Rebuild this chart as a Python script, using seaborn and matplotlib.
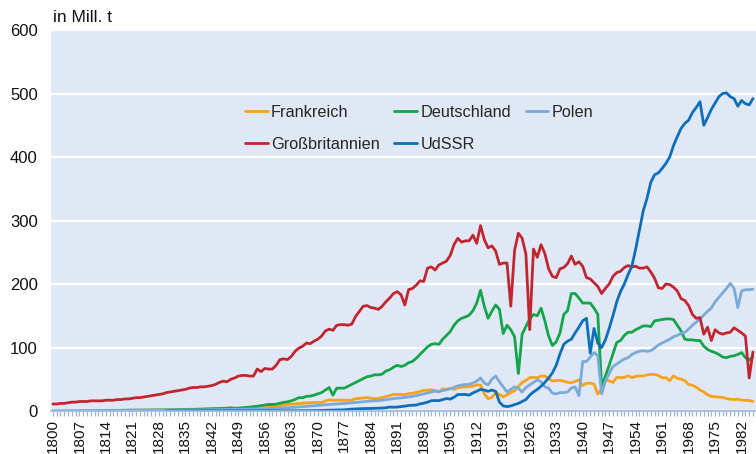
import numpy as np
import pandas as pd
import matplotlib
matplotlib.use("Agg")
import matplotlib.pyplot as plt
from matplotlib.lines import Line2D
from matplotlib.ticker import MultipleLocator
import seaborn as sns

# Steinkohlenförderung in Mill. t, ein Wert je Jahr ab dem Startjahr
frankreich_start = 1815
frankreich = [
    0.9, 0.9, 1.0, 1.0, 1.1,
    1.1, 1.2, 1.2, 1.3, 1.4, 1.5, 1.7, 1.7, 1.8, 1.7,
    1.9, 1.8, 2.0, 2.1, 2.5, 2.5, 2.8, 2.9, 3.1, 3.0,
    3.0, 3.4, 3.6, 3.7, 3.8, 4.2, 4.4, 5.2, 4.0, 4.0,
    4.4, 4.9, 4.8, 5.9, 6.8, 7.5, 7.9, 7.9, 7.4, 7.5,
    8.3, 9.4, 10.3, 10.7, 11.2, 11.6, 12.3, 12.7, 12.8, 13.5,
    13.3, 13.3, 15.8, 17.5, 16.9, 17.0, 17.1, 16.8, 16.9, 17.1,
    19.4, 19.8, 20.6, 21.3, 20.0, 19.5, 19.9, 21.3, 22.6, 24.3,
    26.1, 26.0, 26.2, 25.7, 27.5, 28.0, 29.2, 30.8, 32.4, 32.9,
    33.4, 32.3, 30.0, 34.9, 34.2, 35.9, 34.2, 36.8, 37.5, 37.9,
    38.4, 39.2, 41.1, 40.8, 27.5, 19.5, 21.3, 28.9, 26.3, 22.4,
    25.3, 29.0, 31.9, 38.5, 45.0, 48.1, 52.5, 52.9, 52.4, 55.0,
    55.0, 51.0, 47.3, 47.9, 48.2, 47.1, 45.2, 44.3, 46.5, 49.0,
    40.0, 43.8, 43.8, 42.4, 26.6, 35.0, 49.3, 47.3, 45.1, 53.0,
    52.5, 53.0, 55.4, 52.6, 54.4, 55.3, 55.1, 56.8, 57.7, 57.6,
    56.0, 52.4, 52.4, 47.8, 55.3, 51.3, 50.3, 47.6, 41.8, 40.6,
    37.4, 33.0, 30.0, 25.7, 22.9, 22.4, 21.9, 21.4, 19.6, 18.6,
    18.1, 18.6, 17.1, 17.0, 16.6, 15.1,
]

deutschland_start = 1815
deutschland = [
    1.0, 1.0, 1.1, 1.1, 1.2,
    1.2, 1.3, 1.3, 1.3, 1.4, 1.4, 1.5, 1.5, 1.5, 1.6,
    1.7, 1.7, 1.8, 1.9, 2.0, 2.1, 2.2, 2.4, 2.6, 2.8,
    3.0, 3.2, 3.4, 3.6, 3.8, 4.0, 4.2, 4.5, 4.4, 4.6,
    5.1, 5.6, 6.1, 6.8, 7.6, 8.5, 9.4, 10.3, 10.4, 10.8,
    12.3, 13.6, 14.5, 16.0, 18.2, 21.0, 21.0, 23.0, 23.5, 25.0,
    27, 29, 33, 37, 25, 36, 36, 36, 39, 42,
    45, 48, 51, 54, 55, 57, 57, 58, 63, 65,
    69, 72, 70, 72, 76, 78, 83, 89, 95, 101,
    105, 106, 105, 113, 119, 125, 135, 142, 146, 148,
    151, 158, 170, 190, 165, 146, 157, 167, 160, 122,
    135, 128, 117, 59, 121, 133, 145, 152, 150, 162,
    142, 118, 103, 109, 123, 152, 158, 185, 185, 178,
    170, 170, 170, 162, 152, 38, 55, 72, 90, 108,
    111, 119, 124, 124, 128, 131, 134, 134, 133, 142,
    143, 144, 145, 145, 144, 135, 126, 113, 112, 112,
    111, 111, 102, 97, 94, 92, 89, 85, 84, 86,
    87, 89, 92, 84, 80, 86,
]

polen_start = 1800
polen = [
    0.5, 0.5, 0.5, 0.6, 0.6, 0.6, 0.7, 0.7, 0.7, 0.8,
    0.8, 0.8, 0.8, 0.9, 0.9, 0.9, 1.0, 1.0, 1.0, 1.1,
    1.1, 1.1, 1.2, 1.2, 1.2, 1.3, 1.3, 1.3, 1.4, 1.4,
    1.4, 1.5, 1.5, 1.5, 1.6, 1.6, 1.6, 1.7, 1.7, 1.8,
    1.8, 1.9, 2.0, 2.0, 2.1, 2.2, 2.3, 2.4, 2.5, 2.6,
    2.7, 2.8, 2.9, 3.0, 3.2, 3.4, 3.6, 3.8, 4.0, 4.2,
    4.5, 4.8, 5.1, 5.5, 5.9, 6.3, 6.8, 7.3, 7.8, 8.3,
    8.8, 9.3, 9.8, 10.3, 10.6, 11.0, 11.5, 11.8, 12.3, 12.8,
    13.4, 14.0, 14.6, 15.2, 15.6, 16.0, 16.4, 17.0, 17.8, 18.6,
    19.5, 20.3, 20.6, 21.4, 22.2, 23.0, 24.2, 25.6, 27.0, 28.4,
    30.0, 31.0, 30.8, 32.1, 33.6, 35.0, 37.2, 39.5, 40.9, 41.6,
    42.0, 43.9, 47.0, 52.0, 44.0, 41.0, 50.0, 55.0, 46.0, 38.0,
    30.0, 34.0, 38.0, 36.0, 30.0, 37.0, 41.0, 45.0, 49.0, 46.0,
    38.0, 36.0, 28.0, 27.0, 29.0, 29.0, 30.0, 36.0, 38.0, 24.0,
    78, 78, 85, 92, 87, 27, 47, 59, 70, 74,
    78, 82, 84, 89, 92, 94, 95, 94, 95, 99,
    104, 107, 110, 113, 117, 119, 122, 124, 129, 135,
    140, 145, 151, 157, 162, 172, 179, 186, 193, 201,
    193, 163, 189, 191, 191, 192,
]

grossbritannien_start = 1800
grossbritannien = [
    11, 11, 12, 12, 13, 14, 14, 15, 15, 15,
    16, 16, 16, 16, 17, 17, 17, 18, 18, 19,
    19, 20, 21, 21, 22, 23, 24, 25, 26, 27,
    29, 30, 31, 32, 33, 34, 36, 37, 37, 38,
    38, 39, 40, 42, 45, 47, 46, 50, 52, 55,
    56, 56, 55, 55, 66, 62, 67, 66, 66, 72,
    81, 82, 81, 86, 94, 99, 102, 107, 106, 110,
    113, 118, 126, 129, 127, 135, 136, 136, 135, 137,
    149, 157, 165, 166, 163, 162, 160, 165, 172, 178,
    185, 188, 183, 167, 191, 193, 198, 205, 204, 225,
    227, 222, 230, 233, 236, 245, 262, 272, 266, 268,
    268, 277, 264, 292, 270, 257, 260, 252, 231, 233,
    233, 165, 253, 280, 272, 247, 128, 255, 242, 262,
    248, 224, 212, 210, 224, 226, 232, 244, 231, 235,
    228, 210, 208, 202, 196, 185, 193, 200, 212, 218,
    220, 226, 229, 227, 228, 225, 225, 227, 219, 209,
    194, 193, 200, 199, 195, 189, 177, 174, 166, 152,
    146, 147, 121, 132, 111, 128, 123, 121, 123, 124,
    131, 127, 123, 118, 52, 93,
]

udssr_start = 1830
udssr = [
    0.1, 0.1, 0.1, 0.1, 0.1, 0.1, 0.1, 0.1, 0.1, 0.1,
    0.1, 0.1, 0.1, 0.1, 0.1, 0.1, 0.1, 0.1, 0.1, 0.1,
    0.2, 0.2, 0.2, 0.2, 0.2, 0.2, 0.2, 0.2, 0.2, 0.3,
    0.3, 0.3, 0.3, 0.4, 0.4, 0.4, 0.4, 0.4, 0.5, 0.6,
    0.7, 0.8, 1.1, 1.2, 1.4, 1.7, 1.8, 1.8, 2.5, 2.9,
    3.3, 3.5, 3.8, 4.0, 3.9, 4.3, 4.5, 4.6, 5.2, 6.2,
    6.0, 6.2, 7.0, 7.6, 8.7, 9.1, 9.4, 11.2, 12.3, 13.9,
    16.2, 16.5, 16.3, 17.9, 19.6, 18.7, 21.7, 25.9, 25.9, 26.0,
    25.0, 28.5, 31.1, 34.0, 33.0, 31.0, 33.0, 31.0, 14.0, 8.0,
    7.0, 8.0, 10.0, 12.0, 15.0, 18.0, 25.0, 30.0, 34.0, 39.0,
    45, 52, 60, 72, 90, 105, 110, 113, 123, 132,
    142, 146, 91, 130, 107, 100, 112, 130, 150, 172,
    188, 200, 215, 228, 255, 285, 315, 335, 360, 372,
    375, 382, 390, 400, 418, 432, 445, 453, 458, 470,
    478, 487, 450, 462, 475, 485, 495, 500, 501, 495,
    492, 480, 489, 484, 482, 492,
]

laender = ["Frankreich", "Deutschland", "Polen", "Großbritannien", "UdSSR"]
farben = {
    "Frankreich": "#F7A21B",
    "Deutschland": "#12A54A",
    "Polen": "#7AAAD8",
    "Großbritannien": "#C0262F",
    "UdSSR": "#0B6FBA",
}

reihen = [
    ("Frankreich", frankreich_start, frankreich),
    ("Deutschland", deutschland_start, deutschland),
    ("Polen", polen_start, polen),
    ("Großbritannien", grossbritannien_start, grossbritannien),
    ("UdSSR", udssr_start, udssr),
]
df = pd.concat([
    pd.DataFrame({"Jahr": np.arange(start, start + len(werte)),
                  "Menge": werte, "Land": name})
    for name, start, werte in reihen
], ignore_index=True)

sns.set_theme(style="white")
plt.rcParams["font.family"] = ["Liberation Sans", "DejaVu Sans"]

fig = plt.figure(figsize=(7.56, 4.54), dpi=100)
ax = fig.add_axes([51 / 756, 1 - 411 / 454, 705 / 756, 381 / 454])
ax.set_facecolor("#E1E8F5")

sns.lineplot(data=df, x="Jahr", y="Menge", hue="Land", hue_order=laender,
             palette=farben, linewidth=2.0, estimator=None, legend=False, ax=ax)

ax.set_xlim(1799.5, 1985.8)
ax.set_ylim(0, 600)
ax.set_yticks(range(0, 601, 100))
ax.yaxis.grid(True, color="white", linewidth=1.6)
ax.xaxis.grid(False)
ax.set_axisbelow(True)

ax.set_xticks(range(1800, 1986, 7))
ax.xaxis.set_minor_locator(MultipleLocator(1))
ax.tick_params(axis="x", which="both", direction="out", length=3.5, width=1,
               color="#9DB8DA", labelsize=11, labelrotation=90, pad=2,
               bottom=True)
ax.tick_params(axis="y", length=0, labelsize=12, pad=9.5)
for lab in ax.get_xticklabels() + ax.get_yticklabels():
    lab.set_color("#111111")

for s in ["top", "right", "left"]:
    ax.spines[s].set_visible(False)
ax.spines["bottom"].set_color("#9DB8DA")
ax.spines["bottom"].set_linewidth(1.2)

ax.set_xlabel("")
ax.set_ylabel("")
fig.text(53 / 756, 1 - 17 / 454, "in Mill. t", fontsize=12.5, va="center",
         ha="left", color="#111111")

# Legende: zwei Zeilen, drei Spalten
reihenfolge = ["Frankreich", "Großbritannien", "Deutschland", "UdSSR", "Polen"]
handles = [Line2D([], [], color=farben[n], linewidth=2.0) for n in reihenfolge]
ax.legend(handles, reihenfolge, ncol=3, loc="upper left",
          bbox_to_anchor=((245 - 51) / 705, (411 - 105) / 381),
          frameon=False, fontsize=11.7, handlelength=1.4, handletextpad=0.2,
          columnspacing=0.9, labelspacing=1.05, borderpad=0, borderaxespad=0)

fig.savefig("out.png", dpi=100)
